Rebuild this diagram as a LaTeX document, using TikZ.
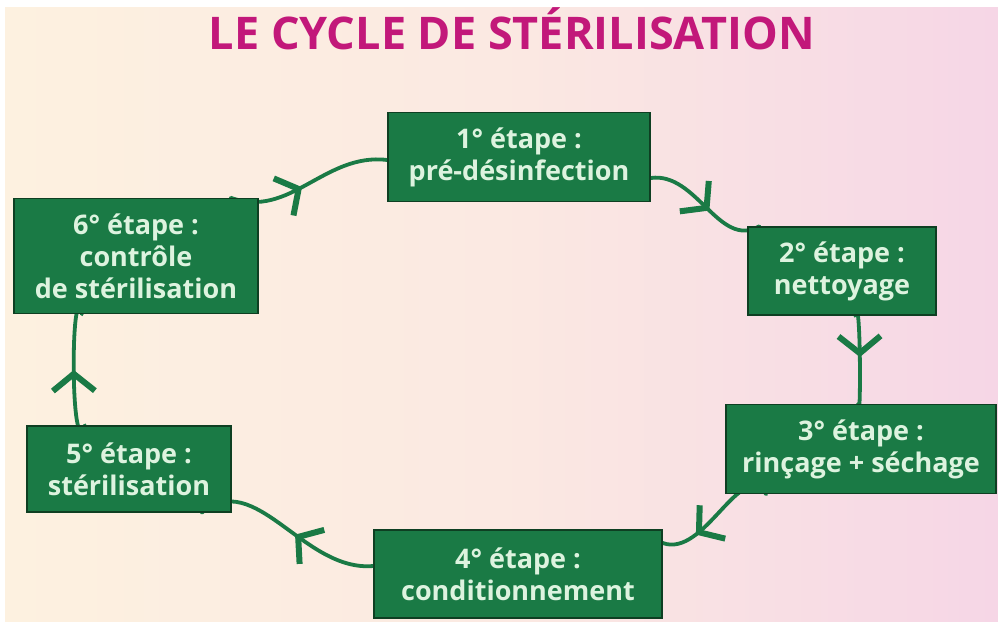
\documentclass[tikz,border=0pt]{standalone}
\usepackage{fontspec}
\setmainfont{Open Sans}
\usetikzlibrary{arrows.meta, decorations.markings, backgrounds}

\definecolor{creme}{HTML}{FDF1E0}
\definecolor{rosefond}{HTML}{F6D6E6}
\definecolor{magenta}{HTML}{C2187A}
\definecolor{vert}{HTML}{1A7A45}
\definecolor{vertfonce}{HTML}{0E3F22}
\definecolor{textevert}{HTML}{DDF3DF}

\begin{document}
\begin{tikzpicture}[
    x=1pt, y=-1pt,
    etape/.style={draw=vertfonce, line width=1.5pt, fill=vert, text=textevert,
        align=center, font=\fontsize{27}{32}\selectfont\bfseries, inner sep=3pt},
    fleche/.style={draw=vert, line width=3.8pt, line cap=round,
        postaction={decorate},
        decoration={markings, mark=at position #1 with
            {\arrow[vert]{Straight Barb[length=17pt, width=42pt, line width=6pt]}}}},
    fleche/.default=0.5,
    titre/.style={font=\fontsize{45}{50}\selectfont\bfseries, text=magenta}
]

% fond
\useasboundingbox (0,0) rectangle (998,623);

% titre
\node[titre] (titre) at (512,29) {LE CYCLE DE STÉRILISATION};

% etapes
\node[etape, minimum width=262, minimum height=89] (b1) at (519,157) {1° étape :\\pré-désinfection};
\node[etape, minimum width=188, minimum height=88] (b2) at (842,271) {2° étape :\\nettoyage};
\node[etape, minimum width=270, minimum height=89] (b3) at (861,449) {3° étape :\\rinçage + séchage};
\node[etape, minimum width=288, minimum height=88] (b4) at (518,574) {4° étape :\\conditionnement};
\node[etape, minimum width=204, minimum height=86] (b5) at (129,469) {5° étape :\\stérilisation};
\node[etape, minimum width=244, minimum height=115] (b6) at (136,256) {6° étape :\\contrôle\\de stérilisation};

\begin{scope}[on background layer]
\fill[white] (0,0) rectangle (998,623);
\shade[left color=creme, right color=rosefond, middle color=creme!70!rosefond]
    (5,8) rectangle (998,621);

% fleches du cycle (y inverse : les angles aussi)
\draw[fleche=0.45] ([xshift=-28pt]b6.north east) to[out=-20, in=173] ([yshift=-3pt]b1.west);
\draw[fleche=0.55] ([yshift=-21pt]b1.east) to[out=8, in=-150] ([xshift=12pt]b2.north west);
\draw[fleche=0.48] ([xshift=13pt]b2.south) to[out=80, in=-85] ([xshift=-3pt]b3.north);
\draw[fleche=0.72] ([xshift=41pt]b3.south west) to[out=125, in=-20] ([yshift=31pt]b4.east);
\draw[fleche=0.45] ([yshift=8pt]b4.west) to[out=185, in=40] ([xshift=-30pt]b5.south east);
\draw[fleche=0.5] ([xshift=-44pt]b5.north) to[out=-110, in=105] ([xshift=-54pt]b6.south);
\end{scope}

\end{tikzpicture}
\end{document}
